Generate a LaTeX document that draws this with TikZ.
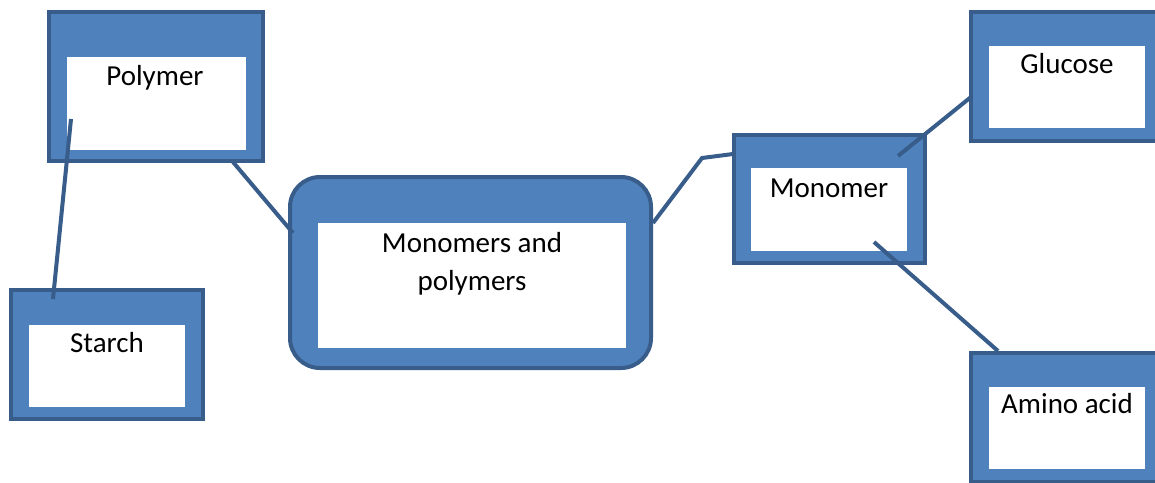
\documentclass[tikz,border=0pt]{standalone}
\usepackage{fontspec}
\setmainfont{Carlito}
\definecolor{boxblue}{HTML}{4F81BD}
\definecolor{edgeblue}{HTML}{385D8A}
\tikzset{
    outerbox/.style={draw=edgeblue, fill=boxblue, line width=4pt, inner sep=0pt},
    innerbox/.style={fill=white, inner sep=0pt},
    txt/.style={anchor=base, inner sep=0pt, font=\fontsize{29}{38}\selectfont, align=center},
    link/.style={draw=edgeblue, line width=4pt}
}
\begin{document}
\begin{tikzpicture}[x=1pt, y=-1pt]
        \useasboundingbox (0, 0) rectangle (1155, 482);
        \clip (0, 0) rectangle (1155, 482);
        \node[outerbox, minimum width=214, minimum height=149] (polymer) at (156, 86.5) {};
        \node[innerbox, minimum width=179, minimum height=93] (polymerin) at (156.5, 103.5) {};
        \node[txt] (polymertxt) at (155, 85) {Polymer};
        \node[outerbox, minimum width=192, minimum height=129] (starch) at (107, 354.5) {};
        \node[innerbox, minimum width=156, minimum height=82] (starchin) at (107, 366) {};
        \node[txt] (starchtxt) at (107, 352) {Starch};
        \node[outerbox, rounded corners=30, minimum width=361, minimum height=191] (mp) at (470.5, 272.5) {};
        \node[innerbox, minimum width=308, minimum height=125] (mpin) at (472, 285.5) {};
        \node[txt] (mptxt) at (472, 290) {Monomers and\\polymers};
        \node[outerbox, minimum width=191, minimum height=128] (monomer) at (829.5, 199) {};
        \node[innerbox, minimum width=156, minimum height=83] (monomerin) at (829, 209.5) {};
        \node[txt] (monomertxt) at (829, 197) {Monomer};
        \node[outerbox, minimum width=191, minimum height=129] (glucose) at (1066.5, 76.5) {};
        \node[innerbox, minimum width=156, minimum height=82] (glucosein) at (1067, 87) {};
        \node[txt] (glucosetxt) at (1067, 73) {Glucose};
        \node[outerbox, minimum width=191, minimum height=129] (amino) at (1066.5, 417.5) {};
        \node[innerbox, minimum width=156, minimum height=82] (aminoin) at (1067, 428) {};
        \node[txt] (aminotxt) at (1067, 413) {Amino acid};
        \coordinate (polymerS) at (71, 119);
        \coordinate (starchN) at (53, 299);
        \coordinate (polymerE) at (233, 162);
        \coordinate (mpW) at (293, 233);
        \coordinate (mpE) at (653, 223);
        \coordinate (bend) at (702, 158);
        \coordinate (monomerW) at (733, 154);
        \coordinate (monomerG) at (898, 156);
        \coordinate (glucoseW) at (971, 97);
        \coordinate (monomerA) at (874, 242);
        \coordinate (aminoN) at (998, 351);
        \draw[link] (polymerS) -- (starchN);
        \draw[link] (polymerE) -- (mpW);
        \draw[link] (mpE) -- (bend) -- (monomerW);
        \draw[link] (monomerG) -- (glucoseW);
        \draw[link] (monomerA) -- (aminoN);
    \end{tikzpicture}
\end{document}
